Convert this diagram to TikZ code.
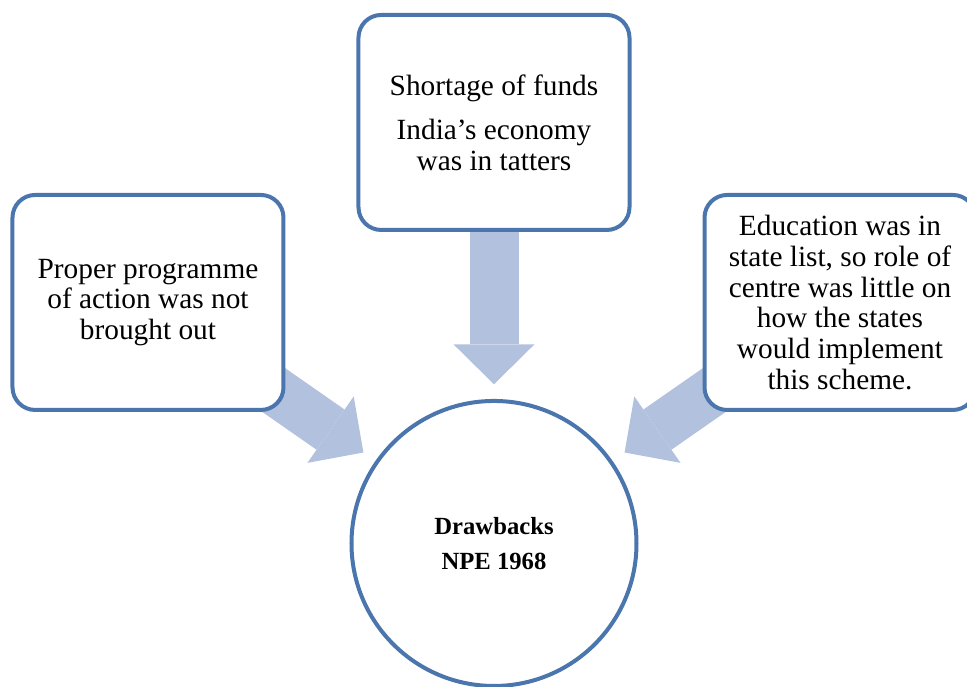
\documentclass[tikz,border=0pt]{standalone}
\usepackage{fontspec}
\setmainfont{Liberation Serif}
\usepackage{xcolor}
\usetikzlibrary{arrows.meta,positioning,backgrounds}

\definecolor{boxblue}{HTML}{4A75AD}
\definecolor{arrowblue}{HTML}{B2C2DE}

\begin{document}
\begin{tikzpicture}[
reason/.style={draw=boxblue, line width=3pt, rounded corners=17pt, fill=white, align=center, minimum width=203.25pt, minimum height=161.25pt, font=\fontsize{22}{23.1}\selectfont},
hub/.style={draw=boxblue, line width=3pt, circle, fill=white, align=center, minimum size=213.75pt, font=\fontsize{18.5}{26}\selectfont\bfseries},
bigarrow/.style={arrowblue, line width=36.75pt, -{Triangle[length=30pt, width=60.75pt, line width=0pt]}, shorten >=11pt}
]
\useasboundingbox (-370.5pt,-106.9pt) rectangle (354.75pt,407.6pt);
\node[hub] (drawbacks) {Drawbacks\\NPE 1968};
\node[reason, above=125.25pt of drawbacks] (funds) {Shortage of funds\\[9.9pt]India’s economy\\was in tatters};
\node[reason, left=53.25pt of funds, yshift=-135pt] (programme) {Proper programme\\of action was not\\brought out};
\node[reason, right=53.25pt of funds, yshift=-135pt] (statelist) {Education was in\\state list, so role of\\centre was little on\\how the states\\would implement\\this scheme.};
% block arrows sit behind the boxes
\begin{scope}[on background layer]
\draw[bigarrow] (funds.center) -- (drawbacks);
\draw[bigarrow] (programme.center) -- (drawbacks);
\draw[bigarrow] (statelist.center) -- (drawbacks);
\end{scope}
\end{tikzpicture}
\end{document}
